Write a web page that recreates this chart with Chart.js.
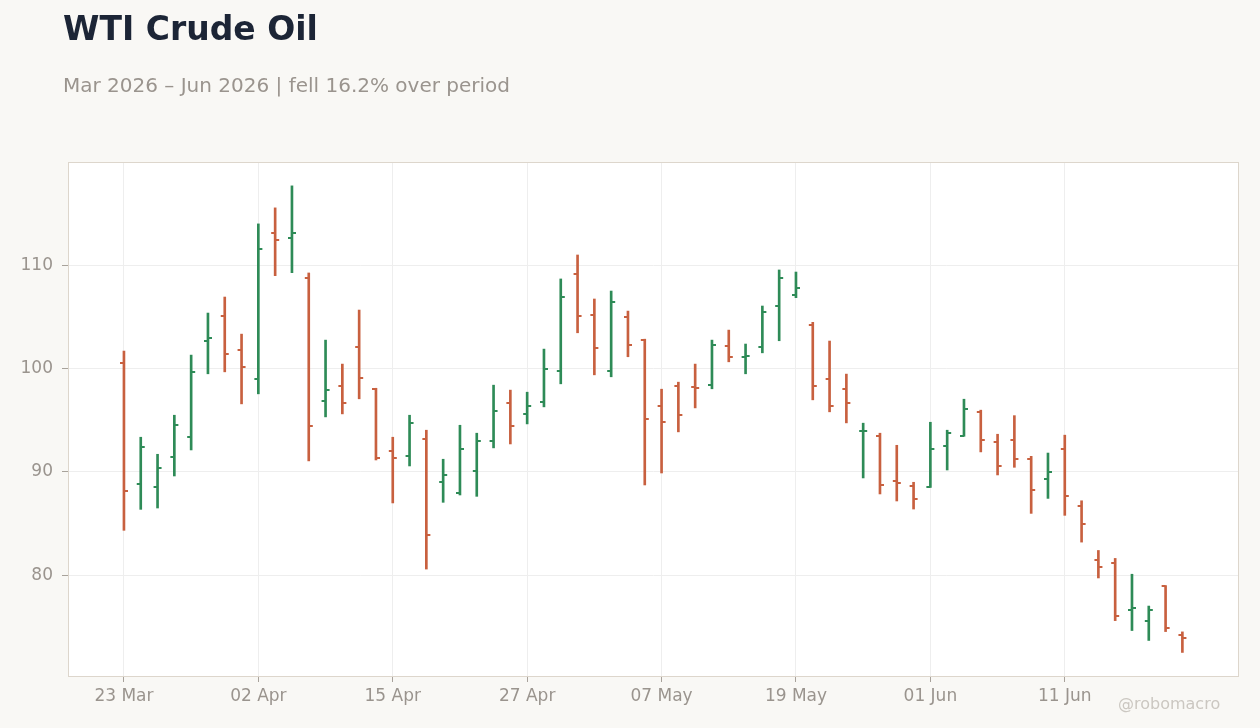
<!DOCTYPE html>
<html>
<head>
<meta charset="utf-8">
<script src="https://cdn.jsdelivr.net/npm/chart.js@4.4.1/dist/chart.umd.min.js"></script>
<style>
  html, body { margin: 0; padding: 0; background: #f9f8f5; }
  #wrap { position: relative; width: 1260px; height: 728px; overflow: hidden; }
  #c { position: absolute; left: 0; top: 0; }
  .txt { position: absolute; font-family: "DejaVu Sans", sans-serif; white-space: nowrap; }
  #title { left: 63px; top: 12px; font-size: 33px; line-height: 33px; font-weight: bold; color: #1c2536; }
  #subtitle { left: 63px; top: 75px; font-size: 20px; line-height: 20px; color: #9a948e; }
  #mark { left: 1118px; top: 696px; font-size: 16px; line-height: 16px; color: #cbc7c1; }
</style>
</head>
<body>
<div id="wrap">
  <canvas id="c" width="1260" height="728"></canvas>
  <div class="txt" id="title">WTI Crude Oil</div>
  <div class="txt" id="subtitle">Mar 2026 – Jun 2026 | fell 16.2% over period</div>
  <div class="txt" id="mark">@robomacro</div>
</div>
<script>
// ---- data (trading days) ----
const dates = [
  '23 Mar','24 Mar','25 Mar','26 Mar','27 Mar','30 Mar','31 Mar','01 Apr','02 Apr',
  '06 Apr','07 Apr','08 Apr','09 Apr','10 Apr','13 Apr','14 Apr','15 Apr','16 Apr','17 Apr',
  '20 Apr','21 Apr','22 Apr','23 Apr','24 Apr','27 Apr','28 Apr','29 Apr','30 Apr','01 May',
  '04 May','05 May','06 May','07 May','08 May','11 May','12 May','13 May','14 May','15 May',
  '18 May','19 May','20 May','21 May','22 May','26 May','27 May','28 May','29 May',
  '01 Jun','02 Jun','03 Jun','04 Jun','05 Jun','08 Jun','09 Jun','10 Jun','11 Jun','12 Jun',
  '15 Jun','16 Jun','17 Jun','18 Jun','22 Jun','23 Jun'
];
const open = [
  100.57, 88.84, 88.55, 91.45, 93.39, 102.70, 105.12, 101.83, 99.01, 113.10,
  112.68, 108.80, 96.88, 98.34, 102.12, 98.05, 92.04, 91.55, 93.20, 89.03,
  87.96, 90.10, 93.00, 96.69, 95.62, 96.79, 99.79, 109.19, 105.22, 99.79,
  105.02, 102.80, 96.40, 98.34, 98.24, 98.43, 102.21, 101.15, 102.12, 106.09,
  107.16, 104.25, 99.01, 98.05, 93.97, 93.49, 89.13, 88.64, 88.55, 92.52,
  93.49, 95.82, 92.91, 93.05, 91.28, 89.36, 92.24, 86.67, 81.47, 81.19,
  76.67, 75.61, 78.97, 74.26
];
const high = [
  101.70, 93.36, 91.71, 95.49, 101.31, 105.38, 106.93, 103.34, 114.01, 115.56,
  117.69, 109.26, 102.76, 100.44, 105.67, 98.10, 93.36, 95.49, 94.04, 91.23,
  94.52, 93.75, 98.40, 97.92, 97.72, 101.89, 108.68, 111.00, 106.74, 107.51,
  105.57, 102.85, 98.01, 98.69, 100.44, 102.76, 103.73, 102.38, 106.06, 109.55,
  109.35, 104.48, 102.67, 99.47, 94.72, 93.75, 92.58, 89.00, 94.81, 94.04,
  97.04, 95.98, 93.65, 95.45, 91.51, 91.83, 93.56, 87.21, 82.40, 81.63,
  80.10, 77.02, 79.00, 74.52
];
const low = [
  84.35, 86.38, 86.51, 89.61, 92.13, 99.50, 99.69, 96.59, 97.56, 109.00,
  109.29, 91.07, 95.33, 95.62, 97.08, 91.16, 87.00, 90.58, 80.60, 87.06,
  87.77, 87.64, 92.33, 92.71, 94.65, 96.30, 98.53, 103.47, 99.40, 99.21,
  101.15, 88.74, 89.90, 93.88, 96.20, 98.05, 100.66, 99.50, 101.53, 102.70,
  106.87, 96.98, 95.82, 94.75, 89.42, 87.87, 87.19, 86.41, 88.50, 90.19,
  93.45, 91.94, 89.71, 90.45, 85.99, 87.44, 85.80, 83.21, 79.74, 75.61,
  74.65, 73.69, 74.55, 72.53
];
const close = [
  88.20, 92.42, 90.39, 94.52, 99.69, 102.99, 101.44, 100.18, 111.62, 112.49,
  113.10, 94.46, 97.95, 96.69, 99.11, 91.36, 91.36, 94.75, 83.86, 89.71,
  92.23, 93.00, 95.91, 94.46, 96.40, 99.98, 106.96, 105.12, 102.02, 106.48,
  102.31, 95.14, 94.85, 95.53, 98.14, 102.31, 101.15, 101.24, 105.51, 108.80,
  107.84, 98.34, 96.40, 96.69, 93.99, 88.74, 88.94, 87.38, 92.23, 93.78,
  96.11, 93.10, 90.58, 91.30, 88.24, 90.03, 87.72, 84.94, 80.80, 76.09,
  76.86, 76.67, 74.90, 73.94
];
const tickLabels = ['23 Mar','02 Apr','15 Apr','27 Apr','07 May','19 May','01 Jun','11 Jun'];
const yTicks = [80, 90, 100, 110];

// ---- styles ----
const UP = '#2e8b57';
const DOWN = '#c8603f';
const FONT = '"DejaVu Sans", sans-serif';

function tickImage(color, side) {
  const cv = document.createElement('canvas');
  cv.width = 10; cv.height = 2;
  const g = cv.getContext('2d');
  g.fillStyle = color;
  if (side === 'left') g.fillRect(1, 0, 4, 2); else g.fillRect(5, 0, 4, 2);
  return cv;
}
const img = {
  upL: tickImage(UP, 'left'), upR: tickImage(UP, 'right'),
  dnL: tickImage(DOWN, 'left'), dnR: tickImage(DOWN, 'right')
};
const isUp = i => close[i] >= open[i];

const plotBox = {
  id: 'plotBox',
  beforeDraw(chart) {
    const a = chart.chartArea, c = chart.ctx;
    c.save();
    c.fillStyle = '#ffffff';
    c.fillRect(a.left, a.top, a.right - a.left, a.bottom - a.top);
    c.restore();
  },
  afterDraw(chart) {
    const a = chart.chartArea, c = chart.ctx;
    c.save();
    c.strokeStyle = '#ddd6cc';
    c.lineWidth = 1;
    c.strokeRect(a.left + 0.5, a.top + 0.5, a.right - a.left - 1, a.bottom - a.top);
    c.restore();
  }
};

new Chart(document.getElementById('c'), {
  type: 'bar',
  data: {
    datasets: [
      {
        type: 'bar',
        data: dates.map((d, i) => ({ x: i, y: [low[i], high[i]] })),
        backgroundColor: ctx => isUp(ctx.dataIndex) ? UP : DOWN,
        borderWidth: 0,
        barThickness: 2,
        grouped: false,
        order: 2
      },
      {
        type: 'scatter',
        data: dates.map((d, i) => ({ x: i, y: open[i] })),
        pointStyle: ctx => isUp(ctx.dataIndex) ? img.upL : img.dnL,
        pointRadius: 5,
        order: 1
      },
      {
        type: 'scatter',
        data: dates.map((d, i) => ({ x: i, y: close[i] })),
        pointStyle: ctx => isUp(ctx.dataIndex) ? img.upR : img.dnR,
        pointRadius: 5,
        order: 1
      }
    ]
  },
  options: {
    responsive: false,
    animation: false,
    events: [],
    layout: { padding: { top: 162, right: 21, left: 0, bottom: 0 } },
    plugins: { legend: { display: false }, tooltip: { enabled: false }, title: { display: false } },
    scales: {
      x: {
        type: 'linear',
        offset: false,
        min: -3.33,
        max: 66.37,
        afterFit: s => { s.height = 52; },
        afterBuildTicks: s => { s.ticks = tickLabels.map(l => ({ value: dates.indexOf(l) })); },
        grid: { offset: false, color: '#eeeeee', tickColor: '#a8a29b', tickLength: 6, lineWidth: 1 },
        border: { display: false },
        ticks: {
          autoSkip: false, maxRotation: 0, padding: 4,
          color: '#9a948e', font: { family: FONT, size: 17 },
          callback: v => dates[v] || ''
        }
      },
      y: {
        type: 'linear',
        min: 70.25,
        max: 120,
        afterFit: s => { s.width = 68; },
        afterBuildTicks: s => { s.ticks = yTicks.map(v => ({ value: v })); },
        grid: { color: '#eeeeee', tickColor: '#a8a29b', tickLength: 6, lineWidth: 1 },
        border: { display: false },
        ticks: {
          padding: 9, color: '#9a948e', font: { family: FONT, size: 17 },
          callback: v => String(v)
        }
      }
    }
  },
  plugins: [plotBox]
});
</script>
</body>
</html>
